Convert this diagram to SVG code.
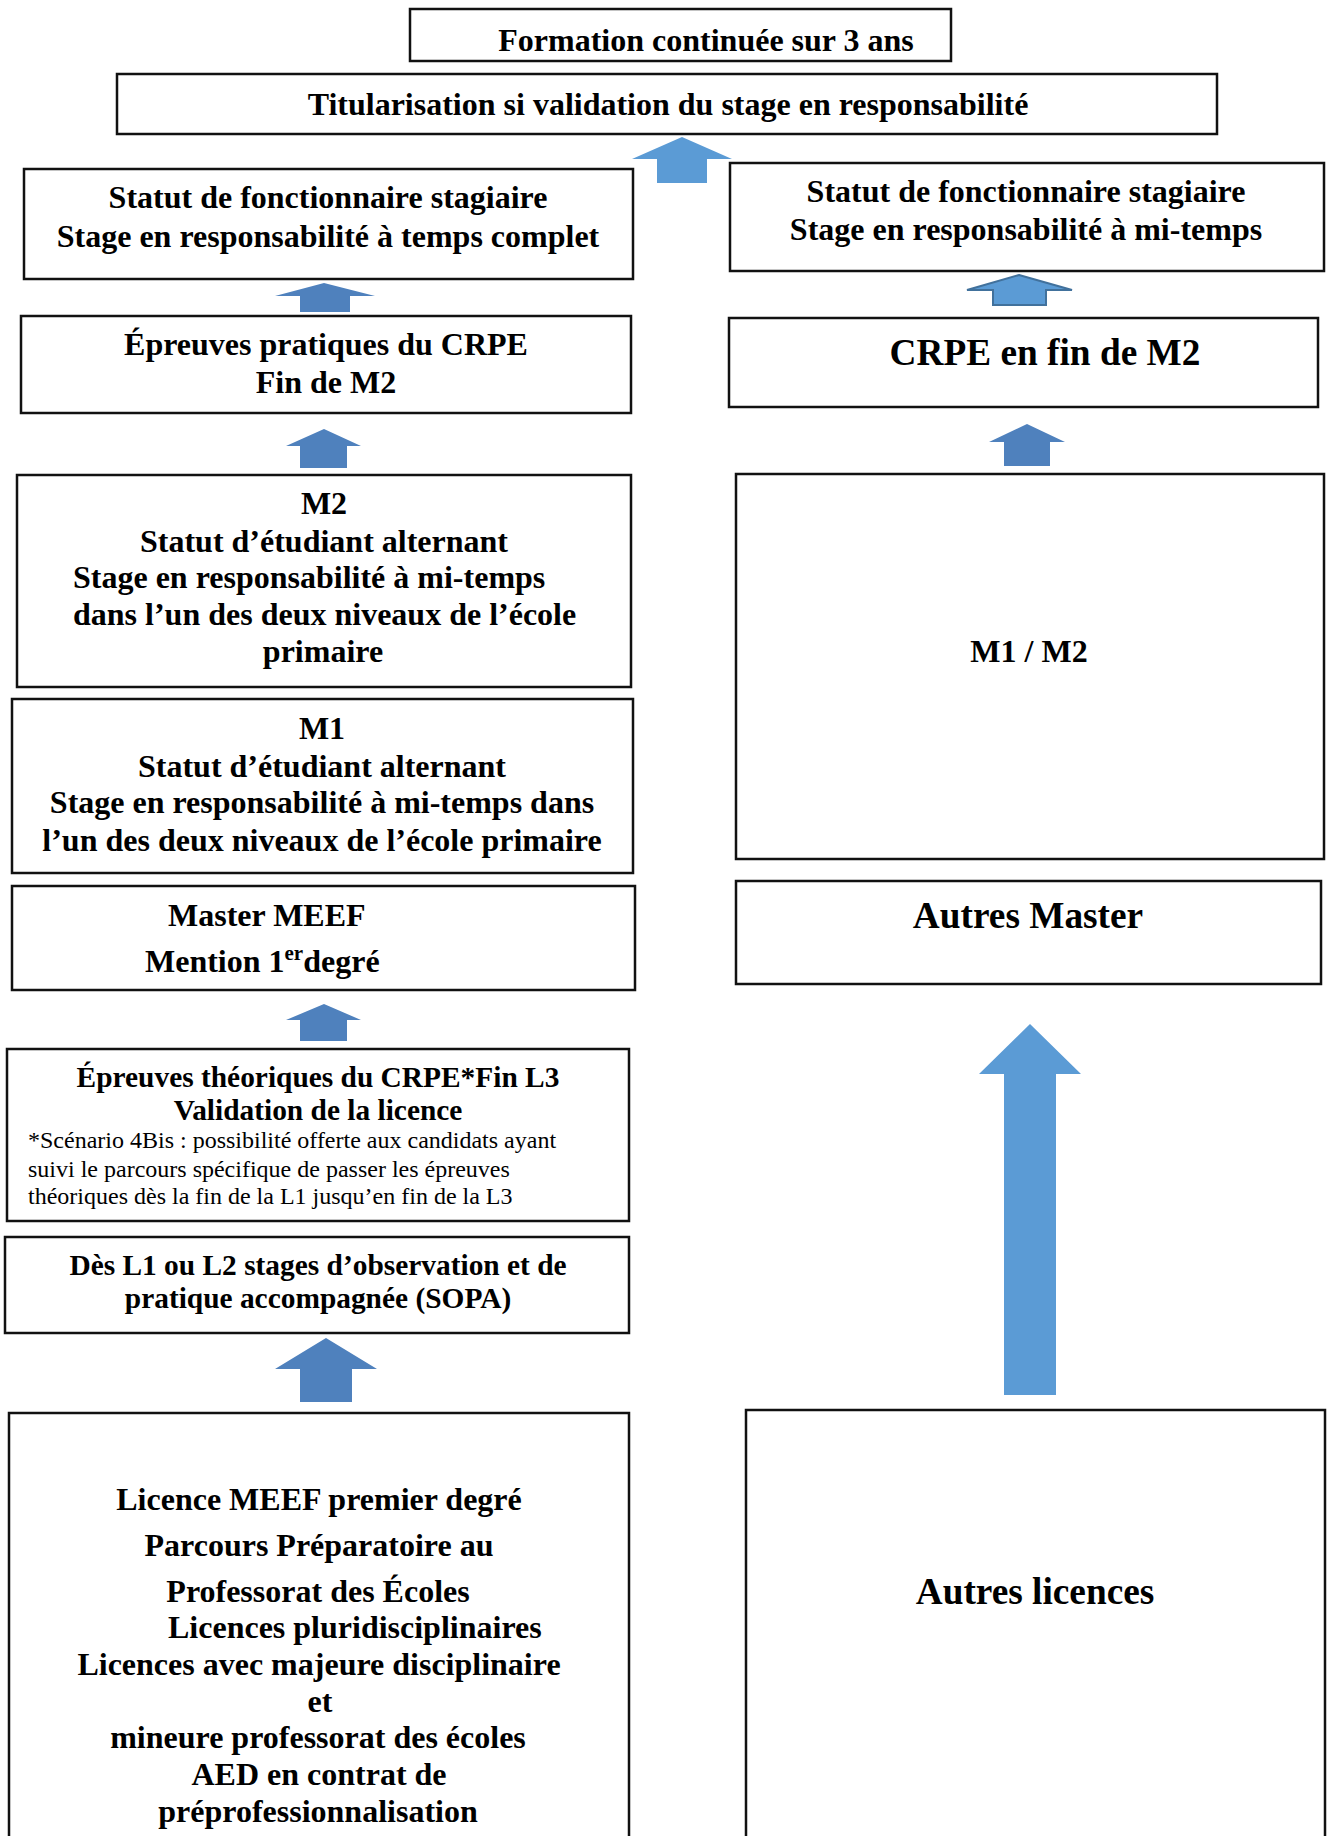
<svg xmlns="http://www.w3.org/2000/svg" width="1333" height="1836" viewBox="0 0 1333 1836">
  <style>
    .box { fill: #ffffff; stroke: #111111; stroke-width: 2.5; }
    text { font-family: "Liberation Serif", "Times New Roman", serif; fill: #000000; }
    .t { font-size: 32px; font-weight: 700; }
    .ts { font-size: 29.4px; font-weight: 700; }
    .tl { font-size: 37.3px; font-weight: 700; }
    .note { font-size: 24px; font-weight: 400; }
    .c { text-anchor: middle; }
    .dark { fill: #4F81BD; }
    .light { fill: #5B9BD5; }
    .outlined { fill: #5B9BD5; stroke: #41719C; stroke-width: 2; }
  </style>
  <rect width="1333" height="1836" fill="#ffffff"/>

  <!-- Block arrows between stages -->
  <g id="connectors">
    <polygon class="light" points="682,137 732,159 707,159 707,183 657,183 657,159 632,159"/>
    <polygon class="dark" points="324,283 375,296 350,296 350,312 300,312 300,296 275,296"/>
    <polygon class="dark" points="324,429 361,446 347,446 347,468 300,468 300,446 286,446"/>
    <polygon class="dark" points="324,1004 361,1020 347,1020 347,1041 300,1041 300,1020 286,1020"/>
    <polygon class="dark" points="326,1338 377,1369 352,1369 352,1402 300,1402 300,1369 275,1369"/>
    <polygon class="outlined" points="1019,275 1072,290 1046,290 1046,305 993,305 993,290 967,290"/>
    <polygon class="dark" points="1027,424 1065,442 1050,442 1050,466 1004,466 1004,442 989,442"/>
    <polygon class="light" points="1030,1024 1081,1074 1056,1074 1056,1395 1004,1395 1004,1074 979,1074"/>
  </g>

  <g id="formation">
    <rect class="box" x="410" y="9" width="541" height="52"/>
    <text class="t c" x="706" y="51">Formation continuée sur 3 ans</text>
  </g>

  <g id="titularisation">
    <rect class="box" x="117" y="74" width="1100" height="60"/>
    <text class="t c" x="668" y="115">Titularisation si validation du stage en responsabilité</text>
  </g>

  <g id="stagiaire-complet">
    <rect class="box" x="24" y="169" width="609" height="110"/>
    <text class="t c" x="328" y="208">Statut de fonctionnaire stagiaire</text>
    <text class="t c" x="328" y="247">Stage en responsabilité à temps complet</text>
  </g>

  <g id="stagiaire-mi-temps">
    <rect class="box" x="730" y="163" width="594" height="108"/>
    <text class="t c" x="1026" y="202">Statut de fonctionnaire stagiaire</text>
    <text class="t c" x="1026" y="240">Stage en responsabilité à mi-temps</text>
  </g>

  <g id="epreuves-pratiques">
    <rect class="box" x="21" y="316" width="610" height="97"/>
    <text class="t c" x="326" y="355">Épreuves pratiques du CRPE</text>
    <text class="t c" x="326" y="393">Fin de M2</text>
  </g>

  <g id="crpe-m2">
    <rect class="box" x="729" y="318" width="589" height="89"/>
    <text class="tl c" x="1045" y="365">CRPE en fin de M2</text>
  </g>

  <g id="m2">
    <rect class="box" x="17" y="475" width="614" height="212"/>
    <text class="t c" x="324" y="514">M2</text>
    <text class="t c" x="324" y="552">Statut d’étudiant alternant</text>
    <text class="t" x="73" y="588">Stage en responsabilité à mi-temps</text>
    <text class="t" x="73" y="625">dans l’un des deux niveaux de l’école</text>
    <text class="t c" x="323" y="662">primaire</text>
  </g>

  <g id="m1-m2">
    <rect class="box" x="736" y="474" width="588" height="385"/>
    <text class="t c" x="1029" y="662">M1 / M2</text>
  </g>

  <g id="m1">
    <rect class="box" x="12" y="699" width="621" height="174"/>
    <text class="t c" x="322" y="739">M1</text>
    <text class="t c" x="322" y="777">Statut d’étudiant alternant</text>
    <text class="t c" x="322" y="813">Stage en responsabilité à mi-temps dans</text>
    <text class="t c" x="322" y="851">l’un des deux niveaux de l’école primaire</text>
  </g>

  <g id="master-meef">
    <rect class="box" x="12" y="886" width="623" height="104"/>
    <text class="t" x="168" y="926">Master MEEF</text>
    <text class="t" x="145" y="972">Mention 1<tspan font-size="21" dy="-12">er</tspan><tspan dy="12">degré</tspan></text>
  </g>

  <g id="autres-master">
    <rect class="box" x="736" y="881" width="585" height="103"/>
    <text class="tl c" x="1028" y="928">Autres Master</text>
  </g>

  <g id="epreuves-theoriques">
    <rect class="box" x="7" y="1049" width="622" height="172"/>
    <text class="ts c" x="318" y="1087">Épreuves théoriques du CRPE*Fin L3</text>
    <text class="ts c" x="318" y="1120">Validation de la licence</text>
    <text class="note" x="28" y="1148">*Scénario 4Bis : possibilité offerte aux candidats ayant</text>
    <text class="note" x="28" y="1177">suivi le parcours spécifique de passer les épreuves</text>
    <text class="note" x="28" y="1204">théoriques dès la fin de la L1 jusqu’en fin de la L3</text>
  </g>

  <g id="sopa">
    <rect class="box" x="5" y="1237" width="624" height="96"/>
    <text class="ts c" x="318" y="1275">Dès L1 ou L2 stages d’observation et de</text>
    <text class="ts c" x="318" y="1308">pratique accompagnée (SOPA)</text>
  </g>

  <g id="licence-meef">
    <rect class="box" x="9" y="1413" width="620" height="440"/>
    <text class="t c" x="319" y="1510">Licence MEEF premier degré</text>
    <text class="t c" x="319" y="1556">Parcours Préparatoire au</text>
    <text class="t c" x="318" y="1602">Professorat des Écoles</text>
    <text class="t" x="168" y="1638">Licences pluridisciplinaires</text>
    <text class="t c" x="319" y="1675">Licences avec majeure disciplinaire</text>
    <text class="t c" x="320" y="1712">et</text>
    <text class="t c" x="318" y="1748">mineure professorat des écoles</text>
    <text class="t c" x="319" y="1785">AED en contrat de</text>
    <text class="t c" x="318" y="1822">préprofessionnalisation</text>
  </g>

  <g id="autres-licences">
    <rect class="box" x="746" y="1410" width="579" height="440"/>
    <text class="tl c" x="1035" y="1604">Autres licences</text>
  </g>
</svg>
